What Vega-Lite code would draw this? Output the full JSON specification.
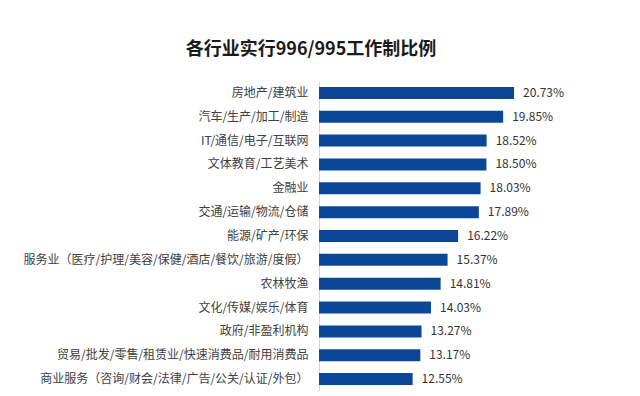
{
  "$schema": "https://vega.github.io/schema/vega-lite/v6.json",
  "width": 248,
  "height": 310,
  "autosize": {"type": "none"},
  "padding": {"left": 319, "top": 81, "right": 73, "bottom": 5},
  "background": "white",
  "config": {"view": {"stroke": null}},
  "title": {
    "text": "各行业实行996/995工作制比例",
    "font": "Noto Sans CJK SC",
    "fontSize": 18,
    "fontWeight": "bold",
    "color": "#1a1a1a",
    "anchor": "middle",
    "frame": "group",
    "dx": -132,
    "offset": 22
  },
  "data": {
    "values": [
      {"industry": "房地产/建筑业", "pct": 20.73},
      {"industry": "汽车/生产/加工/制造", "pct": 19.85},
      {"industry": "IT/通信/电子/互联网", "pct": 18.52},
      {"industry": "文体教育/工艺美术", "pct": 18.50},
      {"industry": "金融业", "pct": 18.03},
      {"industry": "交通/运输/物流/仓储", "pct": 17.89},
      {"industry": "能源/矿产/环保", "pct": 16.22},
      {"industry": "服务业（医疗/护理/美容/保健/酒店/餐饮/旅游/度假）", "pct": 15.37},
      {"industry": "农林牧渔", "pct": 14.81},
      {"industry": "文化/传媒/娱乐/体育", "pct": 14.03},
      {"industry": "政府/非盈利机构", "pct": 13.27},
      {"industry": "贸易/批发/零售/租赁业/快速消费品/耐用消费品", "pct": 13.17},
      {"industry": "商业服务（咨询/财会/法律/广告/公关/认证/外包）", "pct": 12.55}
    ]
  },
  "transform": [
    {"calculate": "format(datum.pct, '.2f') + '%'", "as": "label"}
  ],
  "encoding": {
    "y": {
      "field": "industry",
      "type": "nominal",
      "sort": null,
      "scale": {"paddingInner": 0.5, "paddingOuter": 0.25},
      "axis": {
        "title": null,
        "domain": true,
        "domainColor": "#d4d4d4",
        "domainWidth": 1,
        "ticks": false,
        "grid": false,
        "labelPadding": 11,
        "labelFont": "Noto Sans CJK SC",
        "labelFontSize": 12,
        "labelColor": "#404040",
        "labelLimit": 340
      }
    },
    "x": {
      "field": "pct",
      "type": "quantitative",
      "scale": {"domain": [5, 25], "nice": false, "zero": false},
      "axis": null
    }
  },
  "layer": [
    {"mark": {"type": "bar", "color": "#0c4797", "size": 12, "clip": true}},
    {
      "mark": {
        "type": "text",
        "align": "left",
        "baseline": "middle",
        "dx": 9,
        "font": "Noto Sans CJK SC",
        "fontSize": 12,
        "color": "#333333"
      },
      "encoding": {"text": {"field": "label"}}
    }
  ]
}
